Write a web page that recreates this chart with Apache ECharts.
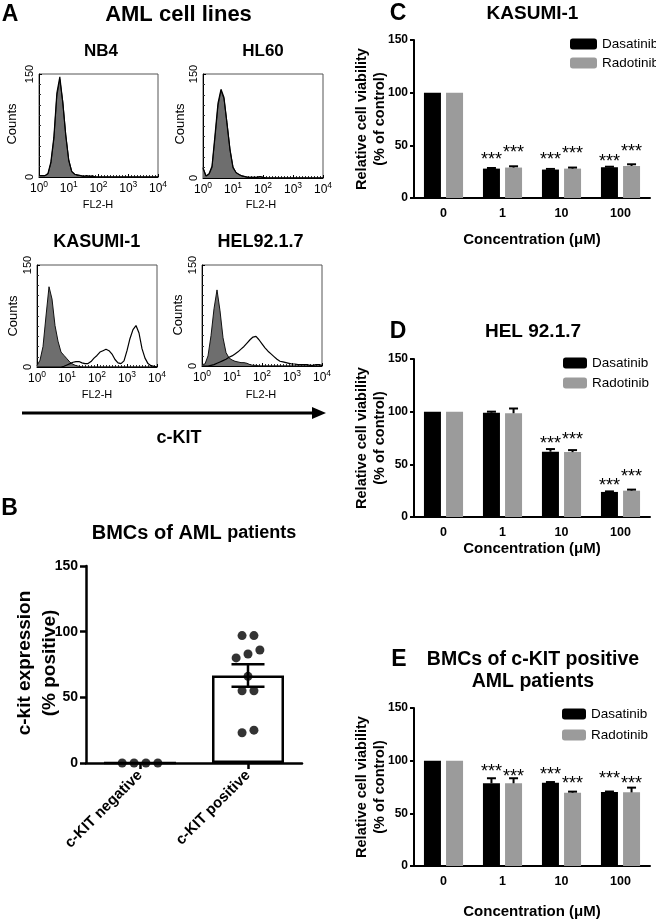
<!DOCTYPE html>
<html><head><meta charset="utf-8">
<script src="https://cdn.jsdelivr.net/npm/echarts@6/dist/echarts.min.js"></script>
<style>html,body{margin:0;padding:0;background:#fff;}#chart{width:656px;height:920px;}</style>
</head><body><div id="chart"></div>
<script>
// ---------- Panel A: flow cytometry histograms (x = log10 FL2-H decade) ----------
const decades = [0,0.1,0.2,0.3,0.4,0.5,0.6,0.7,0.8,0.9,1,1.1,1.2,1.3,1.4,1.5,1.6,1.7,1.8,1.9,2,2.1,2.2,2.3,2.4,2.5,2.6,2.7,2.8,2.9,3,3.1,3.2,3.3,3.4,3.5,3.6,3.7,3.8,3.9,4];
const nb4Isotype   = [2,2,2,4,20,55,118,142,110,62, 25,8,4,2,2,1,1,1,2,0, 0,0,0,0,0,0,0,0,0,0, 0,0,0,0,0,0,0,0,0,0, 0];
const nb4Ckit      = [2,2,2,5,22,58,122,146,108,60, 24,8,4,3,2,1,2,1,1,0, 0,0,0,0,0,0,0,0,0,0, 0,0,0,0,0,0,0,0,0,0, 0];
const hl60Isotype  = [15,3,5,15,58,104,126,114,80,42, 16,8,5,3,2,1,1,1,1,2, 1,0,0,0,0,0,0,0,0,0, 0,0,0,0,0,0,0,0,0,0, 0];
const hl60Ckit     = [14,3,6,17,62,108,128,116,78,40, 15,8,5,3,2,1,1,1,1,2, 1,0,0,0,0,0,0,0,0,0, 0,0,0,0,0,0,0,0,0,0, 0];
const kasumiIsotype= [2,10,30,75,118,100,61,38,22,17, 12,7,4,2,1,0,0,0,0,0, 0,0,0,0,0,0,0,0,0,0, 0,0,0,0,0,0,0,0,0,0, 0];
const kasumiCkit   = [0,0,0,0,0,0,0,0,0,1, 3,5,7,8,8,6,5,5,8,13, 17,22,24,26,24,19,11,6,5,9, 24,42,55,61,50,27,13,5,2,1, 0];
const helIsotype   = [2,3,15,45,85,113,82,42,20,12, 9,7,6,5,5,4,2,1,1,0, 0,0,0,0,0,0,0,0,0,0, 0,0,0,0,0,0,0,0,0,0, 0];
const helCkit      = [0,0,0,1,2,4,6,8,10,13, 15,18,21,25,29,34,39,43,44,39, 33,27,22,18,14,10,7,6,5,4, 3,3,2,2,2,2,1,1,2,2, 1];

// ---------- Panel B: c-kit expression of patient BMCs ----------
const bCategories = ['c-KIT negative','c-KIT positive'];
const bNegative = [0,0,0,0];
const bPositive = [97,97,86,83,80,66,55,55,25,23];

// ---------- Panels C-E: viability (% of control) ----------
const concLabels = ['0','1','10','100'];
const kasumiDas = [100,27.9,27,29.2],  kasumiDasErr = [0,0.6,0.6,0.5];
const kasumiRad = [100,28.9,27.9,30.4], kasumiRadErr = [0,1.2,1,1.6];
const kasumiDasStar = [null,40.2,39.6,38.3], kasumiRadStar = [null,46.9,45.9,47.8];
const helDas = [100,99,62,23.8],   helDasErr = [0,1,2.5,0.5];
const helRad = [100,98.5,61.6,25], helRadErr = [0,4.5,1.9,1];
const helDasStar = [null,null,73,33.5], helRadStar = [null,null,77,41.5];
const bmcDas = [100,78.5,79.1,70.2], bmcDasErr = [0,4.8,0.6,0.5];
const bmcRad = [100,78.5,69.6,69.9], bmcRadErr = [0,4.8,1,4.5];
const bmcDasStar = [null,93,90.2,86.4], bmcRadStar = [null,88.6,81.6,81.6];

// ---------- styling ----------
const FF = '"Liberation Sans", Arial, Helvetica, sans-serif';
const BLACK = '#000';
const DAS_COLOR = '#000000', RAD_COLOR = '#9b9b9b', ISO_FILL = '#6e6e6e';
const BAR_W = 17, BAR_GAP = 0.3;
const BAR_OFF = (BAR_W + BAR_W * BAR_GAP) / 2;
const STAR_SIZE = 18, STAR_DY = 4.2;

const grids = [], xAxes = [], yAxes = [], series = [], legends = [];

const histPanels = [
  {iso: nb4Isotype, kit: nb4Ckit, grid: {left:39, top:74, width:119, height:103}},
  {iso: hl60Isotype, kit: hl60Ckit, grid: {left:203, top:74, width:120, height:104}},
  {iso: kasumiIsotype, kit: kasumiCkit, grid: {left:37, top:265, width:120, height:102}},
  {iso: helIsotype, kit: helCkit, grid: {left:202, top:265, width:120, height:101}}
];
histPanels.forEach((p, i) => {
  grids.push(Object.assign({show:true, borderColor:'#555', borderWidth:1, backgroundColor:'transparent'}, p.grid));
  xAxes.push({gridIndex:i, type:'value', min:0, max:4, interval:1,
    axisLine:{show:true, onZero:false, lineStyle:{color:BLACK, width:1}},
    axisTick:{show:true, inside:true, length:3, lineStyle:{color:BLACK}},
    minorTick:{show:true, splitNumber:10, length:2, lineStyle:{color:'#333'}},
    splitLine:{show:false},
    axisLabel:{margin:3, color:BLACK, formatter: v => '{b|10}{s|' + v + '}',
      rich:{b:{fontSize:12, fontFamily:FF, color:BLACK, lineHeight:15, verticalAlign:'bottom'},
            s:{fontSize:8.5, fontFamily:FF, color:BLACK, lineHeight:15, verticalAlign:'top'}}}
  });
  yAxes.push({gridIndex:i, type:'value', min:0, max:150, interval:150,
    axisLine:{show:true, onZero:false, lineStyle:{color:BLACK, width:1}},
    axisTick:{show:true, inside:true, length:3, lineStyle:{color:BLACK}},
    minorTick:{show:true, splitNumber:10, length:2, lineStyle:{color:'#333'}},
    splitLine:{show:false},
    axisLabel:{rotate:90, margin:4, fontSize:11, fontFamily:FF, color:BLACK}
  });
  series.push({type:'line', xAxisIndex:i, yAxisIndex:i, symbol:'none', silent:true,
    data: decades.map((d, k) => [d, p.iso[k]]),
    lineStyle:{color:'#111', width:1}, areaStyle:{color:ISO_FILL, opacity:1}});
  series.push({type:'line', xAxisIndex:i, yAxisIndex:i, symbol:'none', silent:true,
    data: decades.map((d, k) => [d, p.kit[k]]),
    lineStyle:{color:BLACK, width:1.2}});
});

// ---------- Panel B ----------
grids.push({left:86, top:566, width:216, height:197});
xAxes.push({gridIndex:4, type:'category', data:bCategories,
  axisLine:{lineStyle:{color:BLACK, width:2.5}},
  axisTick:{show:true, alignWithLabel:true, length:6, lineStyle:{color:BLACK, width:2.5}},
  axisLabel:{interval:0, rotate:45, margin:10, fontSize:15, fontWeight:'bold', fontFamily:FF, color:BLACK}});
xAxes.push({gridIndex:4, type:'value', min:0, max:2, show:false});
yAxes.push({gridIndex:4, type:'value', min:0, max:150, interval:50,
  axisLine:{show:true, lineStyle:{color:BLACK, width:2.5}},
  axisTick:{show:true, length:6, lineStyle:{color:BLACK, width:2.5}},
  splitLine:{show:false},
  axisLabel:{margin:8, fontSize:14, fontWeight:'bold', fontFamily:FF, color:BLACK}});
const bGroups = [bNegative, bPositive];
const bMean = bGroups.map(g => g.reduce((a, b) => a + b, 0) / g.length);
const bSem = bGroups.map((g, i) => {
  const m = bMean[i];
  const sd = Math.sqrt(g.reduce((a, b) => a + (b - m) * (b - m), 0) / (g.length - 1));
  return sd / Math.sqrt(g.length);
});
series.push({type:'bar', xAxisIndex:4, yAxisIndex:4, data:bMean, barWidth:72, silent:true,
  itemStyle:{color:'#fff', borderColor:BLACK, borderWidth:2.5}});
series.push({type:'custom', xAxisIndex:4, yAxisIndex:4, silent:true, z:4,
  data: bMean.map((m, i) => [i, m, bSem[i]]),
  renderItem: (params, api) => {
    const i = api.value(0), m = api.value(1), s = api.value(2);
    if (!s) return {type:'group', children:[]};
    const top = api.coord([i, m + s]), bot = api.coord([i, m - s]);
    const x = top[0], hw = 16.5;
    const st = {stroke:BLACK, lineWidth:2.5};
    return {type:'group', children:[
      {type:'line', shape:{x1:x, y1:top[1], x2:x, y2:bot[1]}, style:st},
      {type:'line', shape:{x1:x-hw, y1:top[1], x2:x+hw, y2:top[1]}, style:st},
      {type:'line', shape:{x1:x-hw, y1:bot[1], x2:x+hw, y2:bot[1]}, style:st}
    ]};
  }});
function swarm(values, center, step, tol) {
  const sorted = [...values].sort((a, b) => a - b);
  const rows = [];
  sorted.forEach(v => { const r = rows[rows.length - 1]; if (r && v - r[0] < tol) r.push(v); else rows.push([v]); });
  const out = [];
  rows.forEach(r => r.forEach((v, j) => out.push([center + (j - (r.length - 1) / 2) * step, v])));
  return out;
}
series.push({type:'scatter', xAxisIndex:5, yAxisIndex:4, symbolSize:9, silent:true, z:5,
  itemStyle:{color:BLACK},
  data: [...swarm(bNegative, 0.5, 0.11, 7), ...swarm(bPositive, 1.5, 0.11, 7)]});

// ---------- Panels C, D, E ----------
function errRender(params, api) {
  const i = api.value(0), v = api.value(1), e = api.value(2), side = api.value(3);
  if (!e) return {type:'group', children:[]};
  const base = api.coord([i, v]), top = api.coord([i, v + e]);
  const x = base[0] + side * BAR_OFF, hw = 4.5;
  const st = {stroke:BLACK, lineWidth:2};
  return {type:'group', children:[
    {type:'line', shape:{x1:x, y1:base[1], x2:x, y2:top[1]}, style:st},
    {type:'line', shape:{x1:x-hw, y1:top[1], x2:x+hw, y2:top[1]}, style:st}
  ]};
}
function starRender(params, api) {
  const i = api.value(0), lvl = api.value(1), side = api.value(2);
  const c = api.coord([i, lvl]);
  return {type:'text', x:c[0] + side * BAR_OFF, y:c[1] + STAR_DY,
    style:{text:'***', font:STAR_SIZE + 'px ' + FF, fill:BLACK, align:'center', verticalAlign:'middle', textAlign:'center', textVerticalAlign:'middle'}};
}
const barPanels = [
  {das:kasumiDas, dasErr:kasumiDasErr, rad:kasumiRad, radErr:kasumiRadErr, dasStar:kasumiDasStar, radStar:kasumiRadStar,
   grid:{left:414, top:40, width:236, height:158}, legend:{left:570, top:37, itemWidth:27, itemGap:5}},
  {das:helDas, dasErr:helDasErr, rad:helRad, radErr:helRadErr, dasStar:helDasStar, radStar:helRadStar,
   grid:{left:414, top:359, width:236, height:158}, legend:{left:563, top:356, itemWidth:24, itemGap:6}},
  {das:bmcDas, dasErr:bmcDasErr, rad:bmcRad, radErr:bmcRadErr, dasStar:bmcDasStar, radStar:bmcRadStar,
   grid:{left:414, top:708, width:236, height:158}, legend:{left:562, top:707, itemWidth:24, itemGap:7}}
];
barPanels.forEach((p, k) => {
  const gi = 5 + k, xi = 6 + k, yi = 5 + k;
  grids.push(p.grid);
  xAxes.push({gridIndex:gi, type:'category', data:concLabels,
    axisLine:{lineStyle:{color:BLACK, width:2}}, axisTick:{show:false},
    axisLabel:{margin:9, fontSize:12.5, fontWeight:'bold', fontFamily:FF, color:BLACK}});
  yAxes.push({gridIndex:gi, type:'value', min:0, max:150, interval:50,
    axisLine:{show:true, lineStyle:{color:BLACK, width:2}},
    axisTick:{show:true, length:4, lineStyle:{color:BLACK, width:2}},
    splitLine:{show:false},
    axisLabel:{margin:6, fontSize:12, fontWeight:'bold', fontFamily:FF, color:BLACK}});
  series.push({name:'Dasatinib', type:'bar', xAxisIndex:xi, yAxisIndex:yi, data:p.das, barWidth:BAR_W, barGap:(BAR_GAP*100)+'%', silent:true, itemStyle:{color:DAS_COLOR}});
  series.push({name:'Radotinib', type:'bar', xAxisIndex:xi, yAxisIndex:yi, data:p.rad, barWidth:BAR_W, barGap:(BAR_GAP*100)+'%', silent:true, itemStyle:{color:RAD_COLOR}});
  const errData = [];
  p.das.forEach((v, i) => errData.push([i, v, p.dasErr[i], -1]));
  p.rad.forEach((v, i) => errData.push([i, v, p.radErr[i], 1]));
  series.push({type:'custom', xAxisIndex:xi, yAxisIndex:yi, data:errData, renderItem:errRender, silent:true, z:4});
  const starData = [];
  p.dasStar.forEach((l, i) => { if (l != null) starData.push([i, l, -1]); });
  p.radStar.forEach((l, i) => { if (l != null) starData.push([i, l, 1]); });
  series.push({type:'custom', xAxisIndex:xi, yAxisIndex:yi, data:starData, renderItem:starRender, silent:true, z:5});
  legends.push(Object.assign({orient:'vertical', itemHeight:11, icon:'roundRect', selectedMode:false, padding:0,
    data:['Dasatinib','Radotinib'], textStyle:{fontSize:13.5, fontFamily:FF, color:BLACK}}, p.legend));
});

// ---------- text annotations ----------
function txt(x, y, text, size, bold, extra) {
  const el = {type:'text', x:x, y:y, silent:true, z:10,
    style:{text:text, font:(bold ? 'bold ' : '') + size + 'px ' + FF, fill:BLACK,
      align:'center', verticalAlign:'middle', textAlign:'center', textVerticalAlign:'middle'}};
  if (extra && extra.lh) el.style.lineHeight = extra.lh;
  if (extra && extra.rot) el.rotation = Math.PI / 2;
  return el;
}
const graphics = [
  txt(10, 14.5, 'A', 23, true),
  txt(178.5, 14.5, 'AML cell lines', 22, true),
  txt(101, 51.5, 'NB4', 17, true),
  txt(263, 51.5, 'HL60', 17, true),
  txt(96.7, 242.5, 'KASUMI-1', 18, true),
  txt(260.5, 242.5, 'HEL92.1.7', 18, true),
  txt(12.5, 124, 'Counts', 13, false, {rot:true}),
  txt(180, 124, 'Counts', 13, false, {rot:true}),
  txt(13, 316, 'Counts', 13, false, {rot:true}),
  txt(178, 315, 'Counts', 13, false, {rot:true}),
  txt(98, 205, 'FL2-H', 11, false),
  txt(261, 205, 'FL2-H', 11, false),
  txt(97, 395, 'FL2-H', 11, false),
  txt(261, 395, 'FL2-H', 11, false),
  {type:'line', silent:true, shape:{x1:22, y1:413, x2:315, y2:413}, style:{stroke:BLACK, lineWidth:3}},
  {type:'polygon', silent:true, shape:{points:[[312,407],[326,413],[312,419]]}, style:{fill:BLACK}},
  txt(179, 438, 'c-KIT', 18, true),
  txt(9.5, 508.5, 'B', 23, true),
  {type:'text', x:194, y:533, silent:true, z:10, style:{text:'{a|BMCs of AML }{b|patients}', align:'center', verticalAlign:'middle', textAlign:'center', textVerticalAlign:'middle',
    rich:{a:{fontSize:20, fontWeight:'bold', fontFamily:FF, fill:BLACK, color:BLACK}, b:{fontSize:18, fontWeight:'bold', fontFamily:FF, fill:BLACK, color:BLACK}}}},
  txt(37.5, 663, 'c-kit expression\n(% positive)', 19, true, {rot:true, lh:25}),
  txt(398, 14, 'C', 23, true),
  txt(532.5, 14, 'KASUMI-1', 19, true),
  txt(371, 119, 'Relative cell viability\n(% of control)', 14.5, true, {rot:true, lh:18}),
  txt(532, 240, 'Concentration (\u03bcM)', 15, true),
  txt(398, 332, 'D', 23, true),
  txt(533, 332, 'HEL 92.1.7', 19, true),
  txt(371, 438, 'Relative cell viability\n(% of control)', 14.5, true, {rot:true, lh:18}),
  txt(532, 549, 'Concentration (\u03bcM)', 15, true),
  txt(399, 660, 'E', 23, true),
  txt(533, 671, 'BMCs of c-KIT positive\nAML patients', 19.5, true, {lh:22}),
  txt(371, 787, 'Relative cell viability\n(% of control)', 14.5, true, {rot:true, lh:18}),
  txt(532, 911.5, 'Concentration (\u03bcM)', 15, true)
];

const chart = echarts.init(document.getElementById('chart'), null, {renderer:'canvas'});
chart.setOption({
  animation:false,
  backgroundColor:'#fff',
  textStyle:{fontFamily:FF},
  grid:grids, xAxis:xAxes, yAxis:yAxes, legend:legends, series:series,
  graphic:{elements:graphics}
});
</script>
</body></html>
